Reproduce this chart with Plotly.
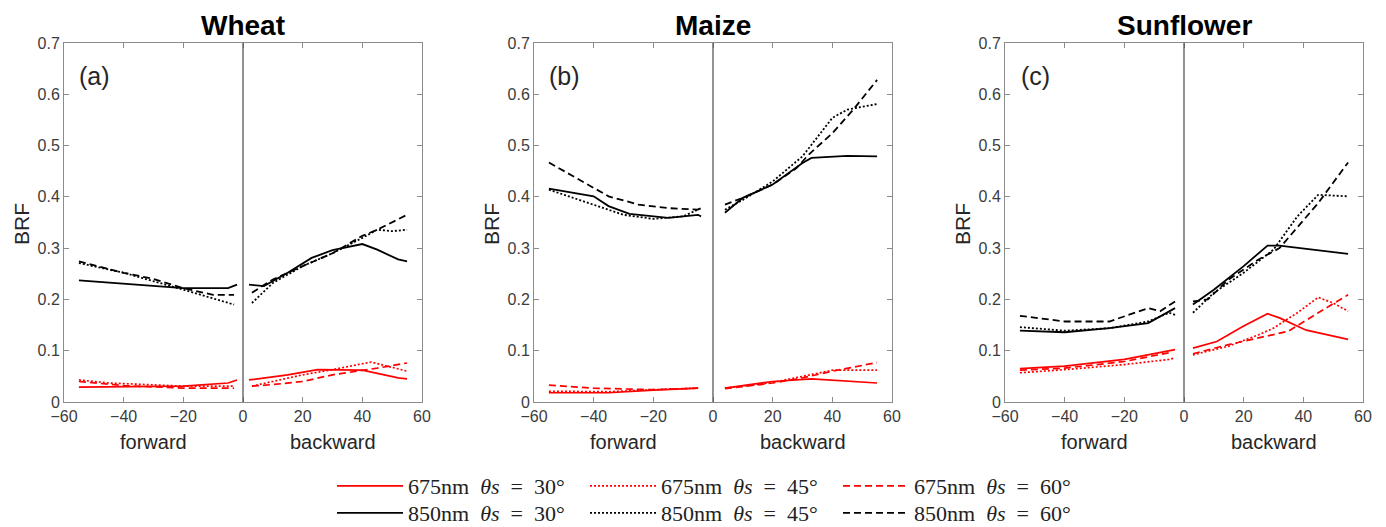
import plotly.graph_objects as go

# ---------------- data ----------------
CROPS = ["Wheat", "Maize", "Sunflower"]
PANEL_LABELS = ["(a)", "(b)", "(c)"]
X_TICKS = [-60, -40, -20, 0, 20, 40, 60]
Y_TICKS = [0, 0.1, 0.2, 0.3, 0.4, 0.5, 0.6, 0.7]
Y_TICK_TEXT = ["0", "0.1", "0.2", "0.3", "0.4", "0.5", "0.6", "0.7"]
SP = "\u2002"
SERIES_NAMES = ["675nm" + SP + "<i>θs</i>" + SP + "=" + SP + "30°",
                "675nm" + SP + "<i>θs</i>" + SP + "=" + SP + "45°",
                "675nm" + SP + "<i>θs</i>" + SP + "=" + SP + "60°",
                "850nm" + SP + "<i>θs</i>" + SP + "=" + SP + "30°",
                "850nm" + SP + "<i>θs</i>" + SP + "=" + SP + "45°",
                "850nm" + SP + "<i>θs</i>" + SP + "=" + SP + "60°"]

# Wheat
wheat_675_30_x = [-55, -40, -20, -5, -2, None, 2, 15, 25, 40, 52, 55]
wheat_675_30_y = [0.029, 0.030, 0.031, 0.037, 0.043, None, 0.043, 0.053, 0.063, 0.062, 0.047, 0.045]
wheat_675_45_x = [-55, -45, -20, -3, None, 3, 20, 30, 43, 55]
wheat_675_45_y = [0.043, 0.037, 0.031, 0.031, None, 0.031, 0.053, 0.063, 0.078, 0.060]
wheat_675_60_x = [-55, -40, -20, -3, None, 3, 10, 20, 30, 45, 55]
wheat_675_60_y = [0.040, 0.032, 0.027, 0.027, None, 0.031, 0.034, 0.040, 0.053, 0.066, 0.076]
wheat_850_30_x = [-55, -20, -5, -2, None, 2, 7, 15, 23, 30, 40, 45, 52, 55]
wheat_850_30_y = [0.237, 0.222, 0.222, 0.229, None, 0.229, 0.226, 0.252, 0.281, 0.296, 0.308, 0.297, 0.278, 0.274]
wheat_850_45_x = [-55, -40, -20, -3, None, 3, 10, 20, 30, 40, 45, 50, 55]
wheat_850_45_y = [0.271, 0.252, 0.219, 0.190, None, 0.193, 0.232, 0.265, 0.290, 0.320, 0.336, 0.333, 0.336]
wheat_850_60_x = [-55, -40, -30, -20, -10, -3, None, 3, 10, 20, 30, 40, 45, 55]
wheat_850_60_y = [0.274, 0.252, 0.240, 0.222, 0.209, 0.209, None, 0.213, 0.239, 0.265, 0.290, 0.324, 0.336, 0.365]

# Maize
maize_675_30_x = [-55, -35, -20, -5, None, 4, 20, 33, 55]
maize_675_30_y = [0.018, 0.018, 0.023, 0.027, None, 0.027, 0.040, 0.045, 0.037]
maize_675_45_x = [-55, -35, -20, -5, None, 4, 20, 30, 40, 55]
maize_675_45_y = [0.021, 0.020, 0.024, 0.027, None, 0.027, 0.038, 0.050, 0.062, 0.062]
maize_675_60_x = [-55, -40, -20, -5, None, 4, 20, 30, 40, 55]
maize_675_60_y = [0.033, 0.027, 0.024, 0.027, None, 0.026, 0.037, 0.047, 0.060, 0.077]
maize_850_30_x = [-55, -40, -35, -28, -15, -5, -4, None, 4, 10, 20, 30, 33, 45, 55]
maize_850_30_y = [0.416, 0.401, 0.382, 0.367, 0.359, 0.365, 0.362, None, 0.369, 0.398, 0.424, 0.466, 0.476, 0.480, 0.479]
maize_850_45_x = [-55, -45, -30, -20, -10, -4, None, 4, 10, 20, 30, 40, 45, 55]
maize_850_45_y = [0.414, 0.394, 0.365, 0.357, 0.362, 0.378, None, 0.375, 0.394, 0.430, 0.479, 0.554, 0.570, 0.581]
maize_850_60_x = [-55, -45, -35, -25, -15, -5, -4, None, 4, 10, 20, 28, 32, 40, 47, 55]
maize_850_60_y = [0.467, 0.434, 0.401, 0.385, 0.378, 0.375, 0.382, None, 0.385, 0.398, 0.424, 0.456, 0.482, 0.524, 0.570, 0.628]

# Sunflower
sun_675_30_x = [-55, -40, -20, -3, None, 3, 11, 20, 28, 32, 41, 55]
sun_675_30_y = [0.065, 0.070, 0.083, 0.102, None, 0.105, 0.118, 0.148, 0.172, 0.164, 0.140, 0.122]
sun_675_45_x = [-55, -40, -20, -5, -3, None, 3, 15, 25, 30, 38, 45, 50, 55]
sun_675_45_y = [0.057, 0.063, 0.073, 0.083, 0.086, None, 0.092, 0.109, 0.131, 0.144, 0.174, 0.204, 0.193, 0.177]
sun_675_60_x = [-55, -40, -20, -5, None, 3, 15, 25, 35, 45, 55]
sun_675_60_y = [0.062, 0.066, 0.079, 0.096, None, 0.094, 0.112, 0.125, 0.138, 0.174, 0.209]
sun_850_30_x = [-55, -40, -25, -12, -3, None, 3, 10, 20, 28, 32, 55]
sun_850_30_y = [0.139, 0.136, 0.144, 0.154, 0.183, None, 0.190, 0.219, 0.265, 0.305, 0.305, 0.289]
sun_850_45_x = [-55, -40, -25, -12, -5, -3, None, 3, 10, 20, 30, 38, 45, 55]
sun_850_45_y = [0.146, 0.139, 0.144, 0.157, 0.174, 0.170, None, 0.174, 0.213, 0.252, 0.297, 0.362, 0.404, 0.401]
sun_850_60_x = [-55, -40, -25, -12, -8, -3, None, 3, 8, 15, 25, 32, 45, 55]
sun_850_60_y = [0.168, 0.157, 0.157, 0.183, 0.177, 0.196, None, 0.196, 0.200, 0.239, 0.278, 0.300, 0.388, 0.467]

DATA = [
    [(wheat_675_30_x, wheat_675_30_y), (wheat_675_45_x, wheat_675_45_y), (wheat_675_60_x, wheat_675_60_y),
     (wheat_850_30_x, wheat_850_30_y), (wheat_850_45_x, wheat_850_45_y), (wheat_850_60_x, wheat_850_60_y)],
    [(maize_675_30_x, maize_675_30_y), (maize_675_45_x, maize_675_45_y), (maize_675_60_x, maize_675_60_y),
     (maize_850_30_x, maize_850_30_y), (maize_850_45_x, maize_850_45_y), (maize_850_60_x, maize_850_60_y)],
    [(sun_675_30_x, sun_675_30_y), (sun_675_45_x, sun_675_45_y), (sun_675_60_x, sun_675_60_y),
     (sun_850_30_x, sun_850_30_y), (sun_850_45_x, sun_850_45_y), (sun_850_60_x, sun_850_60_y)],
]

# ---------------- styling ----------------
W, H = 1386, 527
COLORS = ["#ff0000"] * 3 + ["#000000"] * 3
DASHES = ["solid", "2px,2px", "7px,4px"] * 2
WIDTHS = [1.7, 1.7, 1.7, 1.8, 1.8, 1.8]
X_DOMAINS = [(64 / W, 422 / W), (534 / W, 892 / W), (1005 / W, 1363 / W)]
Y_DOMAIN = (1 - 402 / H, 1 - 43 / H)
SANS = "Liberation Sans, Arial, sans-serif"
SERIF = "Liberation Serif, Times New Roman, serif"
TICK_COLOR = "#3c3c3c"
TEXT_COLOR = "#262626"
FRAME_COLOR = "#8c8c8c"

fig = go.Figure()
annotations = []
shapes = []
for p, crop in enumerate(CROPS):
    suffix = "" if p == 0 else str(p + 1)
    xa, ya = "x" + suffix, "y" + suffix
    for s in range(6):
        xs, ys = DATA[p][s]
        fig.add_trace(go.Scatter(
            x=xs, y=ys, mode="lines", name=SERIES_NAMES[s],
            line=dict(color=COLORS[s], dash=DASHES[s], width=WIDTHS[s]),
            xaxis=xa, yaxis=ya, showlegend=(p == 0),
            legend="legend" if s < 3 else "legend2",
            connectgaps=False, hoverinfo="skip"))
    axis_common = dict(showgrid=False, zeroline=False, showline=True, linecolor=FRAME_COLOR,
                       linewidth=1, mirror="ticks", ticks="inside", ticklen=5, tickcolor=FRAME_COLOR,
                       tickfont=dict(family=SANS, size=16, color=TICK_COLOR))
    fig.layout["xaxis" + suffix] = dict(axis_common, domain=list(X_DOMAINS[p]), range=[-60, 60],
                                        tickvals=X_TICKS, anchor=ya)
    fig.layout["yaxis" + suffix] = dict(axis_common, domain=list(Y_DOMAIN), range=[0, 0.7],
                                        tickvals=Y_TICKS, ticktext=Y_TICK_TEXT, anchor=xa)
    shapes.append(dict(type="line", xref=xa, yref=ya + " domain", x0=0, x1=0, y0=0, y1=1,
                       line=dict(color="#4a4a4a", width=1.2)))
    cx = (X_DOMAINS[p][0] + X_DOMAINS[p][1]) / 2
    annotations.append(dict(text="<b>" + crop + "</b>", x=cx, y=1 - 25 / H, xref="paper", yref="paper",
                            showarrow=False, font=dict(family=SANS, size=28, color="#000000"),
                            xanchor="center", yanchor="middle"))
    annotations.append(dict(text="BRF", x=X_DOMAINS[p][0] - 43 / W, y=1 - 224 / H, xref="paper", yref="paper",
                            showarrow=False, textangle=-90, font=dict(family=SANS, size=21, color=TEXT_COLOR),
                            xanchor="center", yanchor="middle"))
    annotations.append(dict(text=PANEL_LABELS[p], x=-49.7, y=0.636, xref=xa, yref=ya, showarrow=False,
                            font=dict(family=SANS, size=25, color=TEXT_COLOR), xanchor="center", yanchor="middle"))
    annotations.append(dict(text="forward", x=-30, y=1 - 442 / H, xref=xa, yref="paper", showarrow=False,
                            font=dict(family=SANS, size=20, color=TEXT_COLOR), xanchor="center", yanchor="middle"))
    annotations.append(dict(text="backward", x=30, y=1 - 442 / H, xref=xa, yref="paper", showarrow=False,
                            font=dict(family=SANS, size=20, color=TEXT_COLOR), xanchor="center", yanchor="middle"))

legend_common = dict(orientation="h", xanchor="left", yanchor="middle", x=332 / W,
                     font=dict(family=SERIF, size=22, color="#222222"), itemwidth=66,
                     entrywidth=172, entrywidthmode="pixels", bgcolor="rgba(0,0,0,0)",
                     tracegroupgap=0, itemclick=False, itemdoubleclick=False)
fig.update_layout(
    width=W, height=H, margin=dict(l=0, r=0, t=0, b=0, autoexpand=False),
    paper_bgcolor="white", plot_bgcolor="white",
    legend=dict(legend_common, y=1 - 486 / H),
    legend2=dict(legend_common, y=1 - 513 / H),
    annotations=annotations, shapes=shapes,
)
fig.write_html("out.html")
